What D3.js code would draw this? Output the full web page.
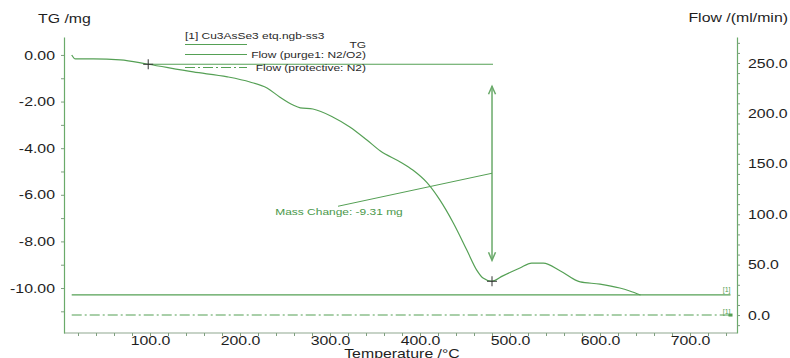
<!DOCTYPE html>
<html>
<head>
<meta charset="utf-8">
<script src="https://cdn.jsdelivr.net/npm/d3@7"></script>
<style>
  html, body { margin: 0; padding: 0; background: #fff; }
  svg { display: block; font-family: "Liberation Sans", Arial, sans-serif; }
</style>
</head>
<body>
<svg id="chart" width="790" height="358"></svg>
<script>
// TG curve of sample [1] Cu3AsSe3 etq.ngb-ss3 (temperature in °C, mass in mg)
const temperature = [13, 17, 37, 67, 98, 148, 186, 211, 230, 244, 259, 267, 281, 303, 322, 341, 356, 378,
                     392, 408, 422, 437, 452, 463, 470, 480, 492, 511, 524, 537, 556, 578, 600, 622, 633, 645];
const tgMass = [0.00, -0.17, -0.17, -0.21, -0.40, -0.73, -0.94, -1.16, -1.42, -1.80, -2.15, -2.27, -2.32, -2.66,
                -3.09, -3.65, -4.12, -4.59, -4.94, -5.49, -6.22, -7.21, -8.37, -9.23, -9.57, -9.71, -9.48, -9.14,
                -8.93, -8.93, -9.27, -9.74, -9.83, -10.00, -10.13, -10.30];

// gas flows (ml/min)
const flowTemps = [13, 745];
const purgeFlow = [20, 20];
const protectiveFlow = [0, 0];

// axis ticks
const tempTicks = [100, 200, 300, 400, 500, 600, 700];
const tempMinorTicks = d3.range(20, 751, 20).filter(t => t % 100 !== 0);
const tgTicks = [0, -2, -4, -6, -8, -10];
const tgMinorTicks = [-1, -3, -5, -7, -9, -11];
const flowTicks = [0, 50, 100, 150, 200, 250];
const flowMinorTicks = d3.range(-10, 271, 10).filter(v => v % 50 !== 0);

// mass change evaluation
const stepTemps = [98, 480];
const stepMass = [-0.40, -9.71];
const massChangeLabel = "Mass Change: -9.31 mg";

// legend
const sampleName = "[1] Cu3AsSe3  etq.ngb-ss3";
const legendItems = ["TG", "Flow (purge1: N2/O2)", "Flow (protective: N2)"];

const GREEN = "#55a055";
const AXIS_GREEN = "#6aaa6a";
const TEXT = "#1e1e1e";
const K = 1.22; // horizontal stretch of the lettering

const svg = d3.select("#chart");

const x = d3.scaleLinear().domain([4.44, 752.2]).range([64, 737]);
const yL = d3.scaleLinear().domain([-11.93, 0.77]).range([333, 37]);
const yR = d3.scaleLinear().domain([-17.8, 275.8]).range([333, 37]);

function stretch(sel) {
  sel.each(function () {
    const t = d3.select(this);
    const x0 = +t.attr("x") || 0;
    t.attr("transform", `translate(${x0},0) scale(${K},1) translate(${-x0},0)`);
  });
  return sel;
}

function styleAxis(g, lineColor) {
  g.select(".domain").attr("stroke", lineColor).attr("stroke-width", 1.2);
  g.selectAll(".tick line").attr("stroke", "#7f9f7f");
  g.selectAll(".tick text").attr("fill", TEXT).style("font-size", "13px");
  stretch(g.selectAll(".tick text"));
}

// bottom axis
const gx = svg.append("g").attr("transform", "translate(0,333)")
  .call(d3.axisBottom(x).tickValues(tempTicks).tickFormat(d => d.toFixed(1))
    .tickSize(3).tickPadding(0).tickSizeOuter(0));
gx.select(".domain").attr("d", `M64,0H737`);
styleAxis(gx, "#8fa88f");
svg.append("g").attr("transform", "translate(0,333)")
  .call(d3.axisBottom(x).tickValues(tempMinorTicks).tickFormat("").tickSize(3).tickSizeOuter(0))
  .call(g => g.select(".domain").remove())
  .selectAll("line").attr("stroke", "#7f9f7f");

// left axis (TG)
const gl = svg.append("g").attr("transform", "translate(64,0)")
  .call(d3.axisLeft(yL).tickValues(tgTicks).tickFormat(d => d.toFixed(2))
    .tickSize(3).tickPadding(6).tickSizeOuter(0));
styleAxis(gl, AXIS_GREEN);
svg.append("g").attr("transform", "translate(64,0)")
  .call(d3.axisLeft(yL).tickValues(tgMinorTicks).tickFormat("").tickSize(3).tickSizeOuter(0))
  .call(g => g.select(".domain").remove())
  .selectAll("line").attr("stroke", "#7f9f7f");

// right axis (flow)
const gr = svg.append("g").attr("transform", "translate(737,0)")
  .call(d3.axisRight(yR).tickValues(flowTicks).tickFormat(d => d.toFixed(1))
    .tickSize(3).tickPadding(8).tickSizeOuter(0));
styleAxis(gr, AXIS_GREEN);
svg.append("g").attr("transform", "translate(737,0)")
  .call(d3.axisRight(yR).tickValues(flowMinorTicks).tickFormat("").tickSize(3).tickSizeOuter(0))
  .call(g => g.select(".domain").remove())
  .selectAll("line").attr("stroke", "#7f9f7f");

// axis titles
stretch(svg.append("text").attr("x", 38).attr("y", 23.5).attr("fill", TEXT)
  .style("font-size", "13px").text("TG /mg"));
stretch(svg.append("text").attr("x", 788).attr("y", 22.5).attr("text-anchor", "end").attr("fill", TEXT)
  .style("font-size", "13px").text("Flow /(ml/min)"));
stretch(svg.append("text").attr("x", 402).attr("y", 358).attr("text-anchor", "middle").attr("fill", TEXT)
  .style("font-size", "13px").text("Temperature /°C"));

// flow lines
const flowLine = d3.line().x(d => x(d[0])).y(d => yR(d[1]));
svg.append("path").datum(flowTemps.map((t, i) => [t, purgeFlow[i]]))
  .attr("d", flowLine).attr("fill", "none").attr("stroke", GREEN).attr("stroke-width", 1.1);
svg.append("path").datum(flowTemps.map((t, i) => [t, protectiveFlow[i]]))
  .attr("d", flowLine).attr("fill", "none").attr("stroke", GREEN).attr("stroke-width", 1.1)
  .attr("stroke-dasharray", "10,3,2,3");
svg.append("rect").attr("x", x(flowTemps[1]) - 2).attr("y", yR(protectiveFlow[1]) - 1.5)
  .attr("width", 4).attr("height", 3).attr("fill", GREEN);

// curve tags
const tag = (t, v, dy) => svg.append("text")
  .attr("x", x(t)).attr("y", yR(v) + dy).attr("text-anchor", "end")
  .attr("fill", GREEN).style("font-size", "7px").text("[1]");
tag(flowTemps[1], purgeFlow[1], -2.5);
tag(flowTemps[1], protectiveFlow[1], -1);

// TG curve
const tgLine = d3.line().x(d => x(d[0])).y(d => yL(d[1])).curve(d3.curveMonotoneX);
svg.append("path").datum(temperature.map((t, i) => [t, tgMass[i]]))
  .attr("d", tgLine).attr("fill", "none").attr("stroke", GREEN).attr("stroke-width", 1.2);

// mass change evaluation: reference level, double arrow, leader and label
const sx0 = x(stepTemps[0]), sx1 = x(stepTemps[1]);
const sy0 = yL(stepMass[0]), sy1 = yL(stepMass[1]);
svg.append("line").attr("x1", sx0).attr("x2", sx1 + 1).attr("y1", sy0).attr("y2", sy0)
  .attr("stroke", GREEN).attr("stroke-width", 1.1);

const aTop = sy0 + 22, aBot = sy1 - 21;
const arrow = svg.append("g").attr("stroke", "#6aaa6a").attr("stroke-width", 1.5).attr("fill", "none");
arrow.append("line").attr("x1", sx1).attr("x2", sx1).attr("y1", aTop).attr("y2", aBot);
arrow.append("path").attr("d", `M${sx1 - 3.5},${aTop + 8}L${sx1},${aTop}L${sx1 + 3.5},${aTop + 8}`);
arrow.append("path").attr("d", `M${sx1 - 3.5},${aBot - 8}L${sx1},${aBot}L${sx1 + 3.5},${aBot - 8}`);

const midY = (aTop + aBot) / 2;
const lx = sx1 - 154, ly = midY + 33;
svg.append("line").attr("x1", sx1).attr("y1", midY).attr("x2", lx).attr("y2", ly)
  .attr("stroke", GREEN).attr("stroke-width", 1);
stretch(svg.append("text").attr("x", lx + 1).attr("y", ly + 8.5).attr("text-anchor", "middle")
  .attr("fill", "#4a984a").style("font-size", "9.8px").text(massChangeLabel));

// step markers
[[sx0, sy0], [sx1, sy1]].forEach(([px, py]) => {
  svg.append("path").attr("d", `M${px - 5},${py}H${px + 5}M${px},${py - 5}V${py + 5}`)
    .attr("stroke", "#333").attr("stroke-width", 1);
});

// legend
const lg = svg.append("g");
stretch(lg.append("text").attr("x", 185).attr("y", 39.5).attr("fill", "#2a2a2a")
  .style("font-size", "9.8px").text(sampleName));
const legY = [44.5, 54.5, 67.5];
legendItems.forEach((name, i) => {
  lg.append("line").attr("x1", 185).attr("x2", 247).attr("y1", legY[i]).attr("y2", legY[i])
    .attr("stroke", GREEN).attr("stroke-width", 1.1)
    .attr("stroke-dasharray", i === 2 ? "10,3,2,3" : null);
  stretch(lg.append("text").attr("x", 366).attr("y", legY[i] + 3.5).attr("text-anchor", "end")
    .attr("fill", "#2a2a2a").style("font-size", "9.8px").text(name));
});
</script>
</body>
</html>
